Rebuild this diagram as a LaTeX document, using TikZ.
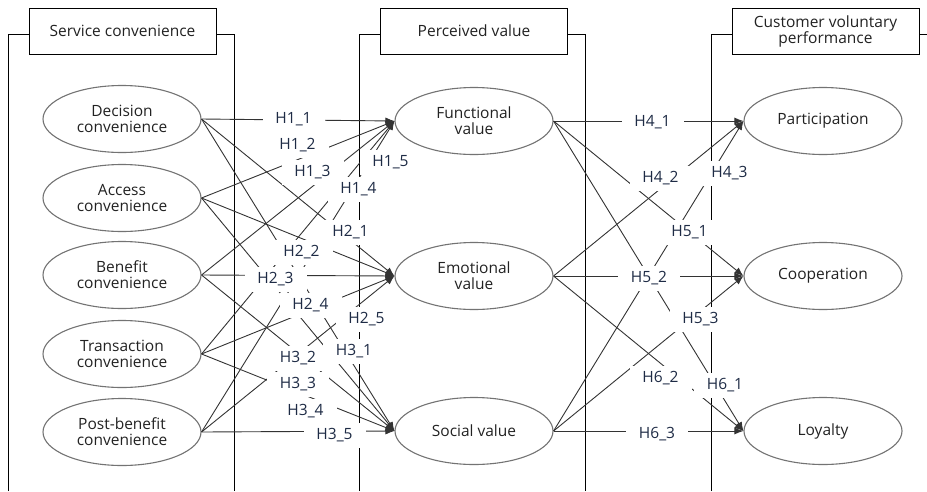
\documentclass[tikz,border=0pt]{standalone}
\usepackage{fontspec}
\setmainfont{Open Sans}
\usetikzlibrary{shapes.geometric,arrows.meta}
\definecolor{txtgray}{HTML}{222222}
\definecolor{hypnavy}{HTML}{1E2B45}
\tikzset{
    construct/.style={draw=black!55, line width=1.1pt, ellipse, minimum width=158pt, minimum height=67pt, inner sep=0pt, align=center, text=txtgray, font=\fontsize{15.5}{16}\selectfont},
    header/.style={draw=black, line width=1pt, fill=white, minimum width=187pt, minimum height=46pt, inner sep=0pt, align=center, text=txtgray, font=\fontsize{15.5}{16}\selectfont},
    panel/.style={black, line width=1pt},
    hyp/.style={black!80, line width=0.9pt, -{Latex[length=9pt, width=7pt]}},
    hyplabel/.style={fill=white, minimum width=62pt, minimum height=25pt, inner sep=0pt, text=hypnavy, font=\fontsize{15.5}{16}\selectfont},
}
\begin{document}
\begin{tikzpicture}[x=1pt, y=-1pt]
    \useasboundingbox (0,0) rectangle (927,491);

    % panels and their headers
    \draw[panel] (8,491) |- (234,34) -- (234,491);
    \draw[panel] (359,491) |- (585,34) -- (585,491);
    \draw[panel] (711,491) |- (940,34) -- (940,491);
    \node[header] (hdrSC) at (122.5,31) {Service convenience};
    \node[header] (hdrPV) at (474,31) {Perceived value};
    \node[header] (hdrCVP) at (825.5,31.5) {Customer voluntary\\performance};

    % service convenience
    \node[construct] (dec) at (122,119) {Decision\\convenience};
    \node[construct] (acc) at (122,198) {Access\\convenience};
    \node[construct] (ben) at (122,275) {Benefit\\convenience};
    \node[construct] (tra) at (122,354) {Transaction\\convenience};
    \node[construct] (pob) at (122,432) {Post-benefit\\convenience};

    % perceived value
    \node[construct] (fun) at (474,121) {Functional\\value};
    \node[construct] (emo) at (474,276) {Emotional\\value};
    \node[construct] (soc) at (474,431) {Social value};

    % customer voluntary performance
    \node[construct] (par) at (823,121) {Participation};
    \node[construct] (coo) at (823,276) {Cooperation};
    \node[construct] (loy) at (823,431) {Loyalty};

    % paths to functional value
    \draw[hyp] (dec.east) -- (fun.west);
    \draw[hyp] (acc.east) -- (fun.west);
    \draw[hyp] (ben.east) -- (fun.west);
    \draw[hyp] (tra.east) -- (fun.west);
    \draw[hyp] (pob.east) -- (fun.west);
    % paths to emotional value
    \draw[hyp] (dec.east) -- (emo.west);
    \draw[hyp] (acc.east) -- (emo.west);
    \draw[hyp] (ben.east) -- (emo.west);
    \draw[hyp] (tra.east) -- (emo.west);
    \draw[hyp] (pob.east) -- (emo.west);
    % paths to social value
    \draw[hyp] (dec.east) -- (soc.west);
    \draw[hyp] (acc.east) -- (soc.west);
    \draw[hyp] (ben.east) -- (soc.west);
    \draw[hyp] (tra.east) -- (soc.west);
    \draw[hyp] (pob.east) -- (soc.west);
    % paths to voluntary performance
    \draw[hyp] (fun.east) -- (par.west);
    \draw[hyp] (emo.east) -- (par.west);
    \draw[hyp] (soc.east) -- (par.west);
    \draw[hyp] (fun.east) -- (coo.west);
    \draw[hyp] (emo.east) -- (coo.west);
    \draw[hyp] (soc.east) -- (coo.west);
    \draw[hyp] (fun.east) -- (loy.west);
    \draw[hyp] (emo.east) -- (loy.west);
    \draw[hyp] (soc.east) -- (loy.west);

    % hypothesis labels
    \node[hyplabel] (h11) at (293.5,119) {H1\_1};
    \node[hyplabel] (h12) at (297.5,145) {H1\_2};
    \node[hyplabel] (h13) at (312.5,172) {H1\_3};
    \node[hyplabel] (h14) at (358.5,189) {H1\_4};
    \node[hyplabel] (h15) at (390.5,162) {H1\_5};
    \node[hyplabel] (h21) at (350.5,232) {H2\_1};
    \node[hyplabel] (h22) at (301.5,252) {H2\_2};
    \node[hyplabel] (h23) at (275.5,279) {H2\_3};
    \node[hyplabel] (h24) at (310.5,305) {H2\_4};
    \node[hyplabel] (h25) at (366.5,319) {H2\_5};
    \node[hyplabel] (h31) at (354,351) {H3\_1};
    \node[hyplabel] (h32) at (298,358) {H3\_2};
    \node[hyplabel] (h33) at (298,384) {H3\_3};
    \node[hyplabel] (h34) at (305.5,411) {H3\_4};
    \node[hyplabel] (h35) at (334.5,435) {H3\_5};
    \node[hyplabel] (h41) at (652.5,122) {H4\_1};
    \node[hyplabel] (h42) at (660.5,178) {H4\_2};
    \node[hyplabel] (h43) at (729.5,173) {H4\_3};
    \node[hyplabel] (h51) at (689.5,232) {H5\_1};
    \node[hyplabel] (h52) at (649,278) {H5\_2};
    \node[hyplabel] (h53) at (700.5,319) {H5\_3};
    \node[hyplabel] (h61) at (725,385) {H6\_1};
    \node[hyplabel] (h62) at (660.5,378) {H6\_2};
    \node[hyplabel] (h63) at (657,434) {H6\_3};
\end{tikzpicture}
\end{document}
